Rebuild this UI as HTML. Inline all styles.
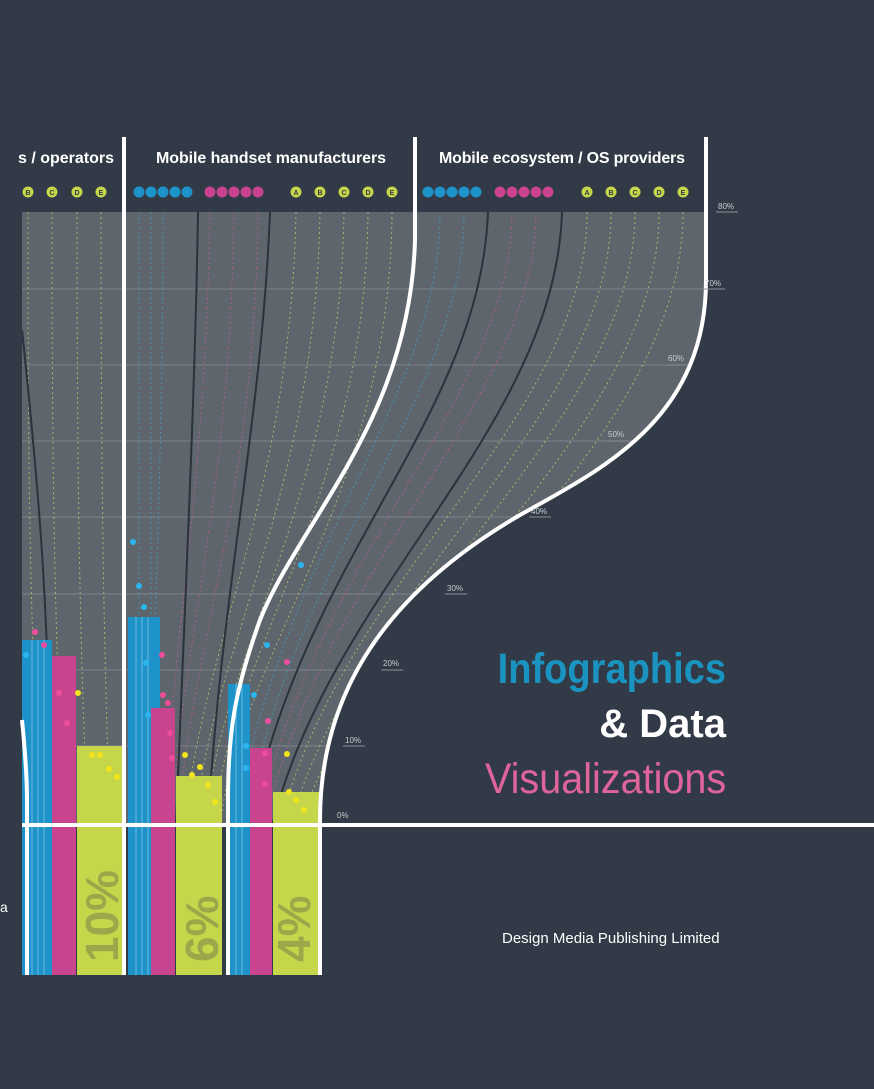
<!DOCTYPE html>
<html><head><meta charset="utf-8"><style>
html,body{margin:0;padding:0;background:#313a46;}
body{width:874px;height:1089px;overflow:hidden;position:relative;font-family:"Liberation Sans",sans-serif;}
svg{position:absolute;left:0;top:0}
.t{position:absolute;font-weight:bold;line-height:1;transform-origin:right center;white-space:nowrap;}
</style></head><body>
<svg width="874" height="1089" viewBox="0 0 874 1089">
<defs>
<clipPath id="g"><path d="M22,212 H706 V280 C706,420 600,470 520,515 C400,585 320,680 320,820 V826 H22 Z"/></clipPath>
</defs>
<rect width="874" height="1089" fill="#313a46"/>
<g clip-path="url(#g)">
<rect x="22" y="212" width="700" height="620" fill="#5e656d"/>
<g stroke="#7d848a" stroke-width="1">
<line x1="22" y1="289" x2="720" y2="289"/><line x1="22" y1="365" x2="720" y2="365"/>
<line x1="22" y1="441" x2="720" y2="441"/><line x1="22" y1="517" x2="720" y2="517"/>
<line x1="22" y1="594" x2="720" y2="594"/><line x1="22" y1="670" x2="720" y2="670"/>
<line x1="22" y1="746" x2="720" y2="746"/>
</g>
<g fill="none" stroke-dasharray="2 3" stroke-width="1" opacity="0.7">
<path d="M28,212 C28,500 30,600 40,826" stroke="#c8d86a"/>
<path d="M52,212 C52,500 55,650 65,826" stroke="#c8d86a"/>
<path d="M77,212 C77,500 80,650 88,826" stroke="#c8d86a"/>
<path d="M101,212 C101,500 104,650 110,826" stroke="#c8d86a"/>
<path d="M139,212 V826" stroke="#3aa8d8"/><path d="M151,212 V826" stroke="#3aa8d8"/><path d="M163,212 C163,500 150,700 150,826" stroke="#3aa8d8"/>
<path d="M210,212 C205,500 170,650 165,826" stroke="#d05a9c"/><path d="M234,212 C230,500 180,650 172,826" stroke="#d05a9c"/><path d="M258,212 C255,500 190,650 178,826" stroke="#d05a9c"/>
<path d="M296,212 C290,500 200,650 185,826" stroke="#c8d86a"/><path d="M320,212 C315,500 210,650 195,826" stroke="#c8d86a"/><path d="M344,212 C340,500 220,650 205,826" stroke="#c8d86a"/><path d="M368,212 C365,500 230,650 213,826" stroke="#c8d86a"/><path d="M392,212 C390,500 240,650 220,826" stroke="#c8d86a"/>
<path d="M440,212 C440,400 280,550 235,826" stroke="#3aa8d8"/><path d="M464,212 C464,400 290,560 245,826" stroke="#3aa8d8"/>
<path d="M512,212 C512,400 310,560 258,826" stroke="#d05a9c"/><path d="M536,212 C536,400 320,570 265,826" stroke="#d05a9c"/>
<path d="M587,212 C587,420 340,580 280,826" stroke="#c8d86a"/><path d="M611,212 C611,420 355,590 290,826" stroke="#c8d86a"/><path d="M635,212 C635,420 370,600 300,826" stroke="#c8d86a"/><path d="M659,212 C659,430 385,610 308,826" stroke="#c8d86a"/><path d="M683,212 C683,440 400,620 315,826" stroke="#c8d86a"/>
</g>
<g fill="none" stroke="#2a323c" stroke-width="2">
<path d="M22,330 C40,500 48,600 52,826"/>
<path d="M198,212 C195,400 185,600 176,826"/>
<path d="M270,212 C262,420 220,600 208,826"/>
<path d="M488,212 C480,420 300,560 250,826"/>
<path d="M562,212 C555,430 330,590 272,826"/>
</g>
</g>
<rect x="22" y="640" width="30" height="335" fill="#1d93c9"/>
<rect x="52" y="656" width="24" height="319" fill="#c9448f"/>
<rect x="77" y="746" width="46" height="229" fill="#c5d64a"/>
<rect x="128" y="617" width="32" height="358" fill="#1d93c9"/>
<rect x="151" y="708" width="24" height="267" fill="#c9448f"/>
<rect x="176" y="776" width="46" height="199" fill="#c5d64a"/>
<rect x="228" y="684" width="22" height="291" fill="#1d93c9"/>
<rect x="250" y="748" width="22" height="227" fill="#c9448f"/>
<rect x="273" y="792" width="47" height="183" fill="#c5d64a"/>
<g stroke="#ffffff" stroke-opacity="0.35" stroke-width="1">
<line x1="32" y1="640" x2="32" y2="975"/><line x1="38" y1="640" x2="38" y2="975"/><line x1="44" y1="640" x2="44" y2="975"/>
<line x1="136" y1="617" x2="136" y2="975"/><line x1="142" y1="617" x2="142" y2="975"/><line x1="148" y1="617" x2="148" y2="975"/>
<line x1="236" y1="684" x2="236" y2="975"/><line x1="242" y1="684" x2="242" y2="975"/>
</g>
<g font-family="Liberation Sans" font-weight="bold" font-size="46" fill="#9aa84a">
<text transform="translate(118,962) rotate(-90)">10%</text>
<text transform="translate(218,962) rotate(-90)">6%</text>
<text transform="translate(310,962) rotate(-90)">4%</text>
</g>
<g fill="#2bb6ef"><circle cx="133" cy="542" r="3"/><circle cx="139" cy="586" r="3"/><circle cx="144" cy="607" r="3"/><circle cx="146" cy="663" r="3"/><circle cx="148" cy="715" r="3"/><circle cx="301" cy="565" r="3"/><circle cx="267" cy="645" r="3"/><circle cx="254" cy="695" r="3"/><circle cx="246" cy="746" r="3"/><circle cx="246" cy="768" r="3"/><circle cx="26" cy="655" r="3"/></g>
<g fill="#ef4d9c"><circle cx="35" cy="632" r="3"/><circle cx="44" cy="645" r="3"/><circle cx="59" cy="693" r="3"/><circle cx="67" cy="723" r="3"/><circle cx="162" cy="655" r="3"/><circle cx="163" cy="695" r="3"/><circle cx="168" cy="703" r="3"/><circle cx="170" cy="733" r="3"/><circle cx="172" cy="758" r="3"/><circle cx="287" cy="662" r="3"/><circle cx="268" cy="721" r="3"/><circle cx="265" cy="753" r="3"/><circle cx="265" cy="784" r="3"/></g>
<g fill="#f2e41a"><circle cx="78" cy="693" r="3"/><circle cx="92" cy="755" r="3"/><circle cx="100" cy="755" r="3"/><circle cx="109" cy="769" r="3"/><circle cx="117" cy="777" r="3"/><circle cx="185" cy="755" r="3"/><circle cx="192" cy="775" r="3"/><circle cx="200" cy="767" r="3"/><circle cx="208" cy="785" r="3"/><circle cx="215" cy="802" r="3"/><circle cx="287" cy="754" r="3"/><circle cx="289" cy="792" r="3"/><circle cx="296" cy="800" r="3"/><circle cx="304" cy="810" r="3"/></g>
<g fill="none" stroke="#ffffff" stroke-width="4">
<line x1="124" y1="137" x2="124" y2="975"/>
<path d="M415,137 V240 C410,420 300,520 260,620 C235,690 228,730 228,800 V975"/>
<path d="M706,137 V280 C706,420 600,470 520,515 C400,585 320,680 320,820 V975"/>
<path d="M22,720 C26,760 27,780 27,800 V975"/>
<line x1="22" y1="825" x2="874" y2="825"/>
</g>
<g font-family="Liberation Sans" font-weight="bold" font-size="7" text-anchor="middle">
<g fill="#c5d64a"><circle cx="28" cy="192" r="5.5"/><circle cx="52" cy="192" r="5.5"/><circle cx="77" cy="192" r="5.5"/><circle cx="101" cy="192" r="5.5"/>
<circle cx="296" cy="192" r="5.5"/><circle cx="320" cy="192" r="5.5"/><circle cx="344" cy="192" r="5.5"/><circle cx="368" cy="192" r="5.5"/><circle cx="392" cy="192" r="5.5"/>
<circle cx="587" cy="192" r="5.5"/><circle cx="611" cy="192" r="5.5"/><circle cx="635" cy="192" r="5.5"/><circle cx="659" cy="192" r="5.5"/><circle cx="683" cy="192" r="5.5"/></g>
<g fill="#1d93c9"><circle cx="139" cy="192" r="5.5"/><circle cx="151" cy="192" r="5.5"/><circle cx="163" cy="192" r="5.5"/><circle cx="175" cy="192" r="5.5"/><circle cx="187" cy="192" r="5.5"/>
<circle cx="428" cy="192" r="5.5"/><circle cx="440" cy="192" r="5.5"/><circle cx="452" cy="192" r="5.5"/><circle cx="464" cy="192" r="5.5"/><circle cx="476" cy="192" r="5.5"/></g>
<g fill="#c9448f"><circle cx="210" cy="192" r="5.5"/><circle cx="222" cy="192" r="5.5"/><circle cx="234" cy="192" r="5.5"/><circle cx="246" cy="192" r="5.5"/><circle cx="258" cy="192" r="5.5"/>
<circle cx="500" cy="192" r="5.5"/><circle cx="512" cy="192" r="5.5"/><circle cx="524" cy="192" r="5.5"/><circle cx="536" cy="192" r="5.5"/><circle cx="548" cy="192" r="5.5"/></g>
<g fill="#313a46"><text x="28" y="195">B</text><text x="52" y="195">C</text><text x="77" y="195">D</text><text x="101" y="195">E</text>
<text x="296" y="195">A</text><text x="320" y="195">B</text><text x="344" y="195">C</text><text x="368" y="195">D</text><text x="392" y="195">E</text>
<text x="587" y="195">A</text><text x="611" y="195">B</text><text x="635" y="195">C</text><text x="659" y="195">D</text><text x="683" y="195">E</text></g>
</g>
<g font-family="Liberation Sans" font-weight="bold" font-size="16" fill="#ffffff">
<text x="18" y="163">s / operators</text>
<text x="156" y="163" textLength="230">Mobile handset manufacturers</text>
<text x="439" y="163" textLength="246">Mobile ecosystem / OS providers</text>
</g>
<g font-family="Liberation Sans" font-size="8" fill="#c8ccd0">
<text x="718" y="209">80%</text><text x="705" y="286">70%</text><text x="668" y="361">60%</text><text x="608" y="437">50%</text>
<text x="531" y="514">40%</text><text x="447" y="591">30%</text><text x="383" y="666">20%</text><text x="345" y="743">10%</text><text x="337" y="818">0%</text>
</g>
<g stroke="#8a9098" stroke-width="1">
<line x1="716" y1="212" x2="738" y2="212"/><line x1="703" y1="289" x2="725" y2="289"/><line x1="666" y1="365" x2="688" y2="365"/><line x1="606" y1="441" x2="628" y2="441"/><line x1="529" y1="517" x2="551" y2="517"/><line x1="445" y1="594" x2="467" y2="594"/><line x1="381" y1="670" x2="403" y2="670"/><line x1="343" y1="746" x2="365" y2="746"/>
</g>
</svg>
<div class="t" style="right:148px;top:648px;font-size:43px;color:#1b93c0;transform:scaleX(0.885);">Infographics</div>
<div class="t" style="right:148px;top:704px;font-size:40px;color:#ffffff;">&amp; Data</div>
<div class="t" style="right:148px;top:758px;font-size:43px;color:#e0649c;font-weight:normal;transform:scaleX(0.92);">Visualizations</div>
<div style="position:absolute;left:502px;top:930px;font-size:15px;color:#fff;white-space:nowrap;">Design Media Publishing Limited</div>
<div style="position:absolute;left:0;top:899px;font-size:14px;color:#fff;">a</div>
</body></html>
